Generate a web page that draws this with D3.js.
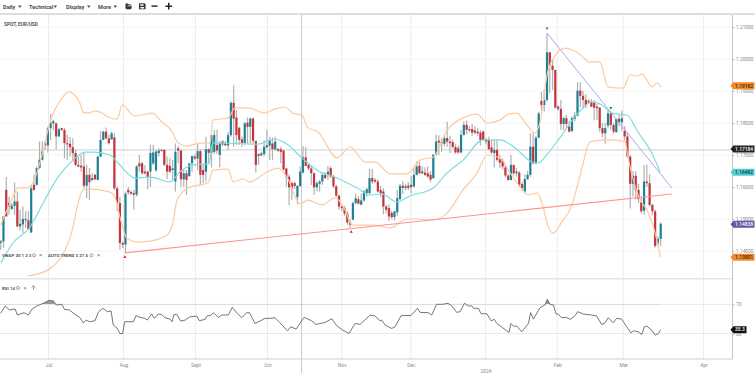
<!DOCTYPE html>
<html>
<head>
<meta charset="utf-8">
<script src="https://cdn.jsdelivr.net/npm/d3@7"></script>
<style>
  html, body { margin: 0; padding: 0; background: #fff; overflow: hidden; }
  text { font-family: Roboto, "Open Sans", sans-serif; }
</style>
</head>
<body>
<div class="chart"></div>
<script>
// daily candles, one entry per bar
let opens = [
  1.1425,1.1430,1.1591,1.1550,1.1531,1.1541,1.1555,1.1477,1.1483,1.1496,
  1.1496,1.1458,1.1607,1.1607,1.1659,1.1685,1.1737,1.1730,1.1784,1.1799,
  1.1799,1.1758,1.1784,1.1778,1.1737,1.1735,1.1724,1.1706,1.1669,1.1667,
  1.1664,1.1604,1.1638,1.1622,1.1638,1.1622,1.1695,1.1747,1.1773,1.1752,
  1.1749,1.1755,1.1596,1.1550,1.1425,1.1420,1.1591,1.1584,1.1581,1.1576,
  1.1674,1.1674,1.1648,1.1648,1.1648,1.1674,1.1652,1.1706,1.1716,1.1716,
  1.1669,1.1666,1.1653,1.1617,1.1721,1.1714,1.1624,1.1643,1.1634,1.1674,
  1.1695,1.1689,1.1712,1.1653,1.1648,1.1718,1.1707,1.1710,1.1731,1.1700,
  1.1742,1.1736,1.1730,1.1762,1.1863,1.1817,1.1785,1.1749,1.1738,1.1801,
  1.1788,1.1814,1.1744,1.1697,1.1699,1.1703,1.1724,1.1729,1.1736,1.1718,
  1.1719,1.1718,1.1714,1.1658,1.1632,1.1612,1.1612,1.1568,1.1603,1.1645,
  1.1693,1.1669,1.1658,1.1643,1.1599,1.1610,1.1617,1.1638,1.1638,1.1659,
  1.1633,1.1602,1.1573,1.1539,1.1534,1.1517,1.1489,1.1498,1.1550,1.1562,
  1.1545,1.1558,1.1581,1.1581,1.1628,1.1622,1.1617,1.1591,1.1586,1.1539,
  1.1534,1.1519,1.1506,1.1521,1.1562,1.1604,1.1602,1.1597,1.1607,1.1602,
  1.1638,1.1666,1.1643,1.1645,1.1643,1.1638,1.1628,1.1701,1.1745,1.1742,
  1.1735,1.1753,1.1742,1.1740,1.1725,1.1721,1.1708,1.1763,1.1794,1.1781,
  1.1781,1.1777,1.1773,1.1770,1.1773,1.1742,1.1747,1.1724,1.1706,1.1716,
  1.1687,1.1682,1.1661,1.1636,1.1622,1.1669,1.1643,1.1645,1.1609,1.1586,
  1.1625,1.1638,1.1726,1.1674,1.1754,1.1869,1.1856,1.1872,1.2021,1.1979,
  1.1966,1.1851,1.1844,1.1797,1.1815,1.1789,1.1775,1.1813,1.1823,1.1901,
  1.1885,1.1872,1.1869,1.1865,1.1864,1.1851,1.1848,1.1784,1.1768,1.1792,
  1.1830,1.1794,1.1771,1.1813,1.1802,1.1775,1.1758,1.1695,1.1610,1.1635,
  1.1591,1.1552,1.1526,1.1617,1.1612,1.1544,1.1524,1.1423,1.1438
];
let highs = [
  1.1435,1.1508,1.1631,1.1570,1.1550,1.1614,1.1586,1.1529,1.1539,1.1524,
  1.1524,1.1607,1.1638,1.1664,1.1742,1.1742,1.1742,1.1789,1.1828,1.1810,
  1.1801,1.1784,1.1785,1.1784,1.1763,1.1756,1.1752,1.1716,1.1695,1.1700,
  1.1708,1.1669,1.1659,1.1643,1.1641,1.1697,1.1775,1.1776,1.1786,1.1763,
  1.1773,1.1768,1.1602,1.1570,1.1430,1.1586,1.1600,1.1589,1.1591,1.1669,
  1.1700,1.1680,1.1669,1.1651,1.1732,1.1732,1.1716,1.1721,1.1718,1.1718,
  1.1695,1.1690,1.1684,1.1736,1.1728,1.1716,1.1653,1.1653,1.1674,1.1697,
  1.1703,1.1736,1.1718,1.1669,1.1757,1.1721,1.1762,1.1778,1.1780,1.1744,
  1.1747,1.1744,1.1773,1.1868,1.1918,1.1840,1.1788,1.1757,1.1804,1.1817,
  1.1817,1.1817,1.1744,1.1705,1.1710,1.1746,1.1778,1.1757,1.1755,1.1757,
  1.1721,1.1726,1.1716,1.1658,1.1640,1.1617,1.1617,1.1606,1.1664,1.1728,
  1.1726,1.1674,1.1666,1.1645,1.1617,1.1622,1.1645,1.1645,1.1666,1.1666,
  1.1638,1.1607,1.1576,1.1545,1.1541,1.1524,1.1500,1.1555,1.1580,1.1572,
  1.1580,1.1590,1.1598,1.1656,1.1656,1.1627,1.1624,1.1604,1.1596,1.1545,
  1.1546,1.1525,1.1524,1.1591,1.1609,1.1619,1.1610,1.1615,1.1634,1.1660,
  1.1680,1.1680,1.1665,1.1662,1.1665,1.1650,1.1703,1.1764,1.1762,1.1752,
  1.1760,1.1804,1.1760,1.1748,1.1735,1.1730,1.1779,1.1805,1.1808,1.1790,
  1.1797,1.1790,1.1785,1.1777,1.1777,1.1754,1.1758,1.1745,1.1747,1.1747,
  1.1700,1.1690,1.1668,1.1640,1.1700,1.1669,1.1660,1.1650,1.1615,1.1640,
  1.1650,1.1768,1.1768,1.1760,1.1835,1.1898,1.1906,1.2080,1.2021,1.1997,
  1.1966,1.1856,1.1872,1.1820,1.1826,1.1806,1.1820,1.1835,1.1927,1.1927,
  1.1900,1.1890,1.1875,1.1875,1.1872,1.1860,1.1851,1.1800,1.1800,1.1839,
  1.1836,1.1800,1.1815,1.1825,1.1838,1.1790,1.1770,1.1700,1.1650,1.1650,
  1.1610,1.1570,1.1669,1.1670,1.1640,1.1548,1.1530,1.1446,1.1490
];
let lows = [
  1.1404,1.1409,1.1508,1.1513,1.1529,1.1513,1.1475,1.1464,1.1456,1.1472,
  1.1466,1.1456,1.1589,1.1604,1.1656,1.1683,1.1716,1.1708,1.1747,1.1778,
  1.1718,1.1756,1.1776,1.1690,1.1685,1.1695,1.1680,1.1666,1.1661,1.1648,
  1.1596,1.1565,1.1560,1.1619,1.1622,1.1620,1.1693,1.1747,1.1749,1.1732,
  1.1747,1.1591,1.1524,1.1404,1.1409,1.1394,1.1576,1.1576,1.1529,1.1570,
  1.1648,1.1638,1.1638,1.1593,1.1600,1.1669,1.1648,1.1695,1.1710,1.1666,
  1.1624,1.1643,1.1622,1.1586,1.1674,1.1601,1.1601,1.1575,1.1632,1.1648,
  1.1684,1.1653,1.1606,1.1612,1.1617,1.1674,1.1661,1.1703,1.1703,1.1662,
  1.1728,1.1728,1.1716,1.1757,1.1726,1.1731,1.1731,1.1726,1.1731,1.1736,
  1.1736,1.1736,1.1645,1.1669,1.1695,1.1695,1.1721,1.1684,1.1684,1.1713,
  1.1710,1.1674,1.1651,1.1601,1.1544,1.1560,1.1593,1.1547,1.1601,1.1643,
  1.1666,1.1653,1.1606,1.1575,1.1586,1.1586,1.1607,1.1625,1.1623,1.1628,
  1.1597,1.1569,1.1529,1.1524,1.1510,1.1482,1.1472,1.1496,1.1545,1.1545,
  1.1542,1.1555,1.1570,1.1578,1.1610,1.1613,1.1583,1.1568,1.1515,1.1518,
  1.1494,1.1500,1.1495,1.1510,1.1560,1.1578,1.1590,1.1590,1.1580,1.1598,
  1.1636,1.1641,1.1640,1.1634,1.1628,1.1615,1.1625,1.1700,1.1700,1.1710,
  1.1727,1.1725,1.1706,1.1720,1.1704,1.1704,1.1705,1.1760,1.1765,1.1770,
  1.1760,1.1765,1.1760,1.1730,1.1745,1.1733,1.1715,1.1703,1.1662,1.1680,
  1.1659,1.1655,1.1630,1.1620,1.1620,1.1636,1.1632,1.1600,1.1588,1.1582,
  1.1622,1.1632,1.1671,1.1672,1.1752,1.1838,1.1836,1.1867,1.1893,1.1903,
  1.1846,1.1838,1.1778,1.1778,1.1785,1.1770,1.1770,1.1805,1.1820,1.1850,
  1.1845,1.1846,1.1860,1.1850,1.1808,1.1810,1.1773,1.1755,1.1735,1.1785,
  1.1780,1.1765,1.1770,1.1790,1.1775,1.1745,1.1692,1.1533,1.1570,1.1560,
  1.1550,1.1518,1.1513,1.1600,1.1540,1.1512,1.1410,1.1416,1.1415
];
let closes = [
  1.1430,1.1508,1.1508,1.1539,1.1542,1.1555,1.1477,1.1485,1.1500,1.1500,
  1.1468,1.1596,1.1591,1.1659,1.1685,1.1711,1.1730,1.1784,1.1801,1.1806,
  1.1758,1.1780,1.1778,1.1737,1.1733,1.1724,1.1706,1.1669,1.1664,1.1661,
  1.1604,1.1638,1.1615,1.1628,1.1624,1.1695,1.1747,1.1773,1.1752,1.1737,
  1.1768,1.1596,1.1550,1.1425,1.1420,1.1579,1.1583,1.1579,1.1576,1.1664,
  1.1664,1.1643,1.1643,1.1631,1.1706,1.1708,1.1711,1.1714,1.1713,1.1669,
  1.1648,1.1648,1.1658,1.1710,1.1714,1.1624,1.1643,1.1622,1.1674,1.1697,
  1.1689,1.1712,1.1638,1.1638,1.1718,1.1707,1.1762,1.1762,1.1714,1.1736,
  1.1733,1.1730,1.1762,1.1863,1.1814,1.1762,1.1747,1.1738,1.1799,1.1788,
  1.1814,1.1744,1.1669,1.1703,1.1705,1.1726,1.1731,1.1747,1.1718,1.1742,
  1.1714,1.1710,1.1655,1.1632,1.1599,1.1596,1.1603,1.1603,1.1648,1.1693,
  1.1666,1.1658,1.1643,1.1599,1.1612,1.1617,1.1638,1.1628,1.1648,1.1633,
  1.1602,1.1573,1.1539,1.1534,1.1517,1.1489,1.1482,1.1550,1.1565,1.1548,
  1.1558,1.1586,1.1593,1.1628,1.1617,1.1617,1.1586,1.1581,1.1539,1.1529,
  1.1508,1.1506,1.1524,1.1565,1.1604,1.1597,1.1597,1.1605,1.1600,1.1638,
  1.1664,1.1643,1.1649,1.1638,1.1633,1.1623,1.1701,1.1742,1.1739,1.1737,
  1.1753,1.1742,1.1737,1.1725,1.1708,1.1708,1.1763,1.1794,1.1779,1.1777,
  1.1770,1.1770,1.1768,1.1747,1.1747,1.1749,1.1718,1.1708,1.1716,1.1685,
  1.1676,1.1664,1.1636,1.1622,1.1669,1.1643,1.1648,1.1607,1.1596,1.1625,
  1.1638,1.1726,1.1674,1.1754,1.1830,1.1856,1.1872,1.2021,1.1979,1.1966,
  1.1848,1.1844,1.1797,1.1815,1.1797,1.1773,1.1815,1.1823,1.1901,1.1885,
  1.1872,1.1856,1.1864,1.1851,1.1848,1.1846,1.1784,1.1768,1.1784,1.1830,
  1.1794,1.1773,1.1813,1.1802,1.1815,1.1758,1.1695,1.1610,1.1635,1.1591,
  1.1563,1.1524,1.1617,1.1612,1.1544,1.1524,1.1416,1.1438,1.1485
];

let upperBand = [
  [0,1.1481],[4.4,1.1569],[6.2,1.1597],[9.8,1.1597],[11.6,1.1612],[14.9,1.1700],[17.8,1.1803],[22.1,1.1878],[24.6,1.1897],
  [28.6,1.1862],[29.7,1.1834],[31.5,1.1831],[34,1.1838],[36.5,1.1831],[38.7,1.1819],[42,1.1812],[43.8,1.1856],[48.4,1.1822],
  [54.9,1.1831],[57.4,1.1809],[62.1,1.1769],[63.6,1.1741],[67.2,1.1728],[71.9,1.1737],[75.5,1.1737],[76.5,1.1809],[82,1.1816],
  [84.5,1.1847],[89.2,1.1847],[95.3,1.1831],[98.9,1.1844],[102.5,1.1850],[105.4,1.1831],[108.7,1.1825],[110.5,1.1787],[114.4,1.1772],
  [121.3,1.1691],[126,1.1725],[131.4,1.1678],[135,1.1678],[140.4,1.1641],[146.5,1.1641],[151.2,1.1684],[156,1.1694],[161,1.1778],
  [166.7,1.1816],[171.8,1.1828],[175.4,1.1800],[180,1.1809],[183,1.1828],[186.2,1.1831],[189,1.1803],[192.7,1.1769],[194.5,1.1803],
  [197,1.1950],[200,1.2012],[203.5,1.2034],[207,1.2025],[210,1.2006],[212,1.1991],[216,1.1991],[219,1.1913],[224.4,1.1909],
  [227,1.1950],[229.5,1.1947],[231.2,1.1953],[235,1.1913],[236.7,1.1925],[238,1.1913]
];
let lowerBand = [
  [9.8,1.1322],[17.1,1.1341],[25,1.1441],[29.7,1.1591],[31.5,1.1594],[39.4,1.1584],[41.2,1.1569],[43,1.1506],[45.5,1.1441],
  [49.2,1.1428],[53.8,1.1431],[60,1.1450],[62.1,1.1488],[63.6,1.1559],[67.6,1.1597],[74.8,1.1613],[76.5,1.1653],[82,1.1656],
  [83.8,1.1616],[87.4,1.1625],[89.9,1.1616],[96,1.1647],[100,1.1659],[103.2,1.1631],[108,1.1547],[110.8,1.1559],[115.9,1.1544],
  [120.6,1.1566],[124.2,1.1528],[126.7,1.1481],[134.3,1.1481],[140.4,1.1472],[146.5,1.1500],[148.7,1.1500],[156,1.1497],[161,1.1519],
  [166.7,1.1591],[171.8,1.1644],[175.4,1.1700],[180,1.1691],[183.7,1.1644],[187.6,1.1597],[190.2,1.1575],[193.4,1.1581],[195.6,1.1538],
  [197,1.1488],[199.2,1.1456],[202.4,1.1491],[206,1.1544],[209.6,1.1659],[212.5,1.1741],[218,1.1747],[220.5,1.1747],[225.2,1.1741],
  [226.2,1.1694],[229.8,1.1575],[233.4,1.1522],[235.2,1.1481],[238,1.1381]
];
let vwapLine = [
  [0,1.1362],[4.4,1.1425],[10.6,1.1475],[15.3,1.1550],[20.7,1.1631],[26.1,1.1684],[30.4,1.1709],[33.3,1.1709],[39.4,1.1700],
  [42.3,1.1675],[48.4,1.1628],[53.8,1.1631],[61,1.1616],[64.6,1.1647],[69.4,1.1669],[75.1,1.1672],[76.5,1.1738],[92.8,1.1734],
  [98.9,1.1750],[102.5,1.1738],[109,1.1688],[114,1.1653],[121.3,1.1628],[128.5,1.1597],[133.2,1.1575],[137.5,1.1578],[142.9,1.1553],
  [147.6,1.1572],[156,1.1597],[161,1.1644],[166.7,1.1684],[174,1.1747],[180,1.1747],[185.5,1.1722],[191.6,1.1678],[193.8,1.1675],
  [197.4,1.1706],[202.4,1.1763],[208.2,1.1831],[213.2,1.1866],[216.8,1.1856],[220.4,1.1831],[225.8,1.1825],[229.8,1.1772],
  [234.8,1.1706],[237.8,1.1647]
];

// auto trend lines and their pivots: [bar, price]
let supportLine = [[44.8,1.1394],[242,1.1578]];
let resistanceLine = [[197,1.2081],[242,1.1597]];
let lowPivots = [[44.8,1.1381],[126.4,1.1460]];
let highPivots = [[197,1.2096],[220,1.1847]];

let rsiLine = [
  [0,57.6],[1.6,67.7],[3.1,62.2],[5.2,63.6],[6,55.3],[8.4,58.5],[10,55.3],[11.2,63.1],[13,67.7],[15.4,71.4],[17.5,75.5],[19,74.6],
  [20,69.1],[22,70],[23,63.1],[24.8,62.2],[26.8,56.2],[28.6,51.6],[29.8,44.3],[30.8,48.4],[32,46.1],[34,47.5],[35.2,59],[36.8,64.5],
  [38.5,59.9],[39.8,60.8],[40.6,41.5],[41.8,38.3],[43,30],[44,30],[44.7,46.1],[47.8,46.1],[48.8,54.4],[50.2,52.1],[52,50.7],[52.9,48.4],
  [54.4,56.7],[55.4,50.7],[56.8,56.7],[58,56.2],[59.2,51.6],[61,49.8],[61.8,46.1],[62.5,56.2],[63.5,56.2],[64.9,47],[66.5,48.4],[68.3,53],
  [70.7,53.9],[71.6,47.5],[73.7,49.3],[74.5,54.4],[75.7,54.4],[76.7,58.5],[78.5,52.1],[79.7,55.3],[82.1,55.3],[83.5,65.9],[85.3,57.6],
  [86.9,51.6],[88.7,58.5],[89.7,58.5],[91.7,43.8],[93.5,47],[95.3,50.7],[97.1,50.7],[98.9,51.6],[100.7,44.7],[103.4,33.7],[104.6,39.2],
  [106.5,36],[109.4,52.1],[112.1,47.5],[113.7,42.4],[117,45.2],[119.4,50.2],[121.2,40.6],[123,35.5],[125.6,30],[127.8,43.8],[129.6,42.4],
  [133.2,55.3],[135,53.9],[136.8,47.5],[137.4,48.4],[138.6,41.5],[141,36.9],[142.2,39.2],[144.4,54.4],[148,54.8],[150.3,64.5],[151.2,59],
  [154.2,58.5],[155.4,55.3],[157.2,70],[159.6,70],[161.2,71.4],[162.6,68.2],[164.4,59],[165.7,59.9],[167.2,71.4],[168.7,67.7],[169.9,67.7],
  [170.5,64.5],[172.3,64.5],[173.2,57.1],[175.3,57.1],[176.8,47.5],[178,49.3],[178.9,43.8],[183.3,31.4],[184,43.8],[184.9,40.1],[186.1,40.1],
  [187.9,32.3],[190.3,43.8],[191.1,58.5],[192.1,49.8],[194.5,65.4],[196.3,69.1],[197.1,76.9],[198.1,70],[199.3,69.1],[200.3,56.7],[201.1,56.2],
  [202.3,51.6],[204.1,52.1],[205.3,49.3],[207.1,54.4],[208.1,59.9],[210.1,56.7],[213.1,55.3],[214.9,53.9],[216.7,42.4],[217.9,44.7],[219.1,51.6],
  [220.9,44.7],[222.1,50.7],[223.9,49.8],[227.2,30.9],[228.2,33.7],[230,32.3],[231.2,28.6],[232.1,39.2],[233,40.1],[234.8,34.6],[236,27.7],
  [237.2,30],[238,35.3]
];

let monthBars = [17.24, 44.3, 70.2, 96.2, 123, 147.9, 174.8, 200.7, 224.5, 253.4];
let monthLabels = ['Jul', 'Aug', 'Sept', 'Oct', 'Nov', 'Dec', '2024', 'Feb', 'Mar', 'Apr'];
let priceTicks = [1.14, 1.15, 1.16, 1.17, 1.18, 1.19, 1.20, 1.21];
let rsiTicks = [30, 70];
let lastPrices = [
  {price: 1.19162, label: '1.19162', fill: '#f58a2c', ink: '#3a2408'},
  {price: 1.17184, label: '1.17184', fill: '#222222', ink: '#ffffff'},
  {price: 1.16462, label: '1.16462', fill: '#4fd0d0', ink: '#10393b'},
  {price: 1.14838, label: '1.14838', fill: '#6655a8', ink: '#ffffff'},
  {price: 1.13801, label: '1.13801', fill: '#f58a2c', ink: '#3a2408'}
];
let crosshairBar = 108.5;
let crosshairPrice = 1.1716;
let rsiLast = 35.3;
let menus = ['Daily', 'Technical', 'Display', 'More'];

let width = 755, height = 373;
let axisX = 732.5;
let mainTop = 15, mainBottom = 278, rsiBottom = 359;

let svg = d3.select('.chart')
  .append('svg')
  .attr('width', width)
  .attr('height', height)
  .style('display', 'block');

let xScale = d3.scaleLinear().domain([0, 238]).range([0.7, 660.7]);
let yScale = d3.scaleLinear().domain([1.14, 1.21]).range([251, 27]);
let rsiScale = d3.scaleLinear().domain([30, 70]).range([333.5, 304.3]);

let defs = svg.append('defs');
defs.append('clipPath').attr('id', 'mainClip').append('rect')
  .attr('x', 0).attr('y', mainTop).attr('width', axisX).attr('height', mainBottom - mainTop);
defs.append('clipPath').attr('id', 'overbought').append('rect')
  .attr('x', 0).attr('y', 279).attr('width', axisX).attr('height', rsiScale(70) - 279);

// gridlines
let grid = svg.append('g');
grid.selectAll('.vgrid')
  .data(monthBars)
  .enter()
  .append('line')
  .attr('x1', d => xScale(d)).attr('x2', d => xScale(d))
  .attr('y1', mainTop).attr('y2', rsiBottom)
  .attr('stroke', '#ebebeb');
grid.selectAll('.hgrid')
  .data(priceTicks)
  .enter()
  .append('line')
  .attr('x1', 0).attr('x2', axisX)
  .attr('y1', d => yScale(d)).attr('y2', d => yScale(d))
  .attr('stroke', '#f4f4f4');
grid.selectAll('.rsigrid')
  .data(rsiTicks)
  .enter()
  .append('line')
  .attr('x1', 0).attr('x2', axisX)
  .attr('y1', d => rsiScale(d)).attr('y2', d => rsiScale(d))
  .attr('stroke', '#e8e8e8');

// toolbar and panel separators
svg.append('rect').attr('x', 0).attr('y', 13).attr('width', width).attr('height', 2).attr('fill', '#dedede');
svg.append('rect').attr('x', 0).attr('y', 278).attr('width', axisX).attr('height', 1.5).attr('fill', '#e6e6e6');

let menuX = [3, 29, 66, 98];
menus.forEach((m, i) => {
  svg.append('text').text(m)
    .attr('x', menuX[i]).attr('y', 8.5)
    .attr('font-size', 5.6).attr('font-weight', 700).attr('fill', '#4a4a4a');
});
[[18, 5.5], [53.5, 5.5], [87, 5.5], [113.5, 5.5]].forEach(p => {
  svg.append('path').attr('d', `M${p[0]},${p[1]}h3.6l-1.8,2.4z`).attr('fill', '#555');
});
svg.append('path').attr('d', 'M125.5,3.5h2.5l0.8,1h2.5v1h-3.8l-1,3h-1z M127,6.2h5l-1,3h-5z').attr('fill', '#333');
svg.append('path').attr('d', 'M139,3.2h5.6l1,1v5h-6.6z M140.2,4.2v1.6h3.4v-1.6z M140.4,7v1.6h3.8V7z').attr('fill', '#333').attr('fill-rule', 'evenodd');
svg.append('rect').attr('x', 151.5).attr('y', 5.4).attr('width', 6).attr('height', 1.4).attr('fill', '#222');
svg.append('path').attr('d', 'M168,2.8h1.5v2.6h2.6v1.5h-2.6v2.6H168V6.9h-2.6V5.4H168z').attr('fill', '#222');

svg.append('text').text('SPOT, EUR/USD')
  .attr('x', 4).attr('y', 25.5)
  .attr('font-size', 4.8).attr('font-weight', 700).attr('fill', '#555');

// crosshair
svg.append('line')
  .attr('x1', 0).attr('x2', axisX)
  .attr('y1', yScale(crosshairPrice)).attr('y2', yScale(crosshairPrice))
  .attr('stroke', '#cfcfcf');
svg.append('line')
  .attr('x1', xScale(crosshairBar)).attr('x2', xScale(crosshairBar))
  .attr('y1', mainTop).attr('y2', height)
  .attr('stroke', '#c9c9c9');

// candles
let main = svg.append('g').attr('clip-path', 'url(#mainClip)');
let bars = d3.range(opens.length);

main.selectAll('.wick')
  .data(bars)
  .enter()
  .append('line')
  .attr('x1', d => xScale(d)).attr('x2', d => xScale(d))
  .attr('y1', d => yScale(highs[d])).attr('y2', d => yScale(lows[d]))
  .attr('stroke', '#b0b0b0')
  .attr('stroke-width', 1.2);

main.selectAll('.body')
  .data(bars)
  .enter()
  .append('rect')
  .attr('x', d => xScale(d) - 1.1)
  .attr('y', d => yScale(Math.max(opens[d], closes[d])))
  .attr('width', 2.2)
  .attr('height', d => Math.max(1, Math.abs(yScale(opens[d]) - yScale(closes[d]))))
  .attr('fill', d => closes[d] >= opens[d] ? '#1d8296' : '#c4343f');

// overlays
let priceLine = d3.line()
  .x(d => xScale(d[0]))
  .y(d => yScale(d[1]));
let smoothLine = d3.line()
  .x(d => xScale(d[0]))
  .y(d => yScale(d[1]))
  .curve(d3.curveMonotoneX);

function overlay(path, color, w) {
  main.append('path')
    .attr('d', path)
    .attr('fill', 'none')
    .attr('stroke', color)
    .attr('stroke-width', w);
}
overlay(smoothLine(upperBand), '#fdcaa0', 1.2);
overlay(smoothLine(lowerBand), '#fdcaa0', 1.2);
overlay(smoothLine(vwapLine), '#7edcdc', 1.2);
overlay(priceLine(supportLine), '#fb9494', 1.1);
overlay(priceLine(resistanceLine), '#a9a9f0', 1);

main.selectAll('.lowPivot')
  .data(lowPivots)
  .enter()
  .append('path')
  .attr('d', d3.symbol(d3.symbolTriangle, 4))
  .attr('transform', d => `translate(${xScale(d[0])}, ${yScale(d[1])})`)
  .attr('fill', '#e0262b');
main.selectAll('.highPivot')
  .data(highPivots)
  .enter()
  .append('path')
  .attr('d', d3.symbol(d3.symbolTriangle, 4))
  .attr('transform', d => `translate(${xScale(d[0])}, ${yScale(d[1])}) rotate(180)`)
  .attr('fill', '#2d8a1e');

// indicator legends
function legend(label, x, y, gearX, crossX) {
  svg.append('text').text(label)
    .attr('x', x).attr('y', y)
    .attr('font-size', 4.4).attr('font-weight', 700).attr('fill', '#555');
  svg.append('circle').attr('cx', gearX).attr('cy', y - 1.6).attr('r', 1.5)
    .attr('fill', 'none').attr('stroke', '#777').attr('stroke-width', 0.7);
  svg.append('text').text('×')
    .attr('x', crossX).attr('y', y + 0.4)
    .attr('font-size', 6).attr('fill', '#777');
}
legend('VWAP 20 1 2 3', 2, 257, 34, 39);
legend('AUTO TREND 3 27 4', 48, 257, 91.5, 97);
legend('RSI 14', 2, 289.5, 18, 23.5);
svg.append('path').attr('d', 'M33.5,290v-4.2M31.6,287.6l1.9,-2l1.9,2')
  .attr('fill', 'none').attr('stroke', '#777').attr('stroke-width', 0.7);

// rsi panel
let rsiPath = d3.line()
  .x(d => xScale(d[0]))
  .y(d => rsiScale(d[1]));
let rsiArea = d3.area()
  .x(d => xScale(d[0]))
  .y0(rsiScale(70))
  .y1(d => rsiScale(d[1]));

svg.append('path')
  .attr('d', rsiArea(rsiLine))
  .attr('clip-path', 'url(#overbought)')
  .attr('fill', '#999');
svg.append('path')
  .attr('d', rsiPath(rsiLine))
  .attr('fill', 'none')
  .attr('stroke', '#666')
  .attr('stroke-width', 0.9);

// axes
let xAxis = d3.axisBottom(xScale)
  .tickValues(monthBars)
  .tickFormat((d, i) => monthLabels[i])
  .tickSize(0)
  .tickPadding(3);
let xAxisG = svg.append('g')
  .attr('transform', `translate(0, ${rsiBottom})`)
  .call(xAxis);
xAxisG.select('.domain').remove();
xAxisG.selectAll('text')
  .attr('font-size', 4.8)
  .attr('fill', '#888')
  .attr('dy', d => d === 174.8 ? 10.5 : 5);
svg.append('line')
  .attr('x1', 0).attr('x2', axisX)
  .attr('y1', rsiBottom).attr('y2', rsiBottom)
  .attr('stroke', '#cfcfcf');

let yAxis = d3.axisRight(yScale)
  .tickValues(priceTicks)
  .tickFormat(d3.format('.5f'))
  .tickSize(2)
  .tickPadding(1.5);
let yAxisG = svg.append('g')
  .attr('transform', `translate(${axisX}, 0)`)
  .call(yAxis);
yAxisG.select('.domain').remove();
yAxisG.selectAll('line').attr('stroke', '#bbb');
yAxisG.selectAll('text').attr('font-size', 4.8).attr('fill', '#888');

let rsiAxis = d3.axisRight(rsiScale)
  .tickValues(rsiTicks)
  .tickSize(2)
  .tickPadding(1.5);
let rsiAxisG = svg.append('g')
  .attr('transform', `translate(${axisX}, 0)`)
  .call(rsiAxis);
rsiAxisG.select('.domain').remove();
rsiAxisG.selectAll('line').attr('stroke', '#bbb');
rsiAxisG.selectAll('text').attr('font-size', 4.8).attr('fill', '#888');

svg.append('line')
  .attr('x1', axisX).attr('x2', axisX)
  .attr('y1', mainTop).attr('y2', rsiBottom)
  .attr('stroke', '#c4c4c4');

// last value tags
function tag(y, label, fill, ink, w) {
  let g = svg.append('g').attr('transform', `translate(${axisX - 2}, ${y})`);
  g.append('path')
    .attr('d', `M0,0L3,-3.5H${w}V3.5H3Z`)
    .attr('fill', fill);
  g.append('text').text(label)
    .attr('x', 4.5).attr('y', 1.8)
    .attr('font-size', 4.9).attr('font-weight', 500).attr('fill', ink);
}
lastPrices.forEach(d => tag(yScale(d.price), d.label, d.fill, d.ink, 24));
tag(rsiScale(rsiLast), rsiLast, '#111111', '#ffffff', 16);
</script>
</body>
</html>
